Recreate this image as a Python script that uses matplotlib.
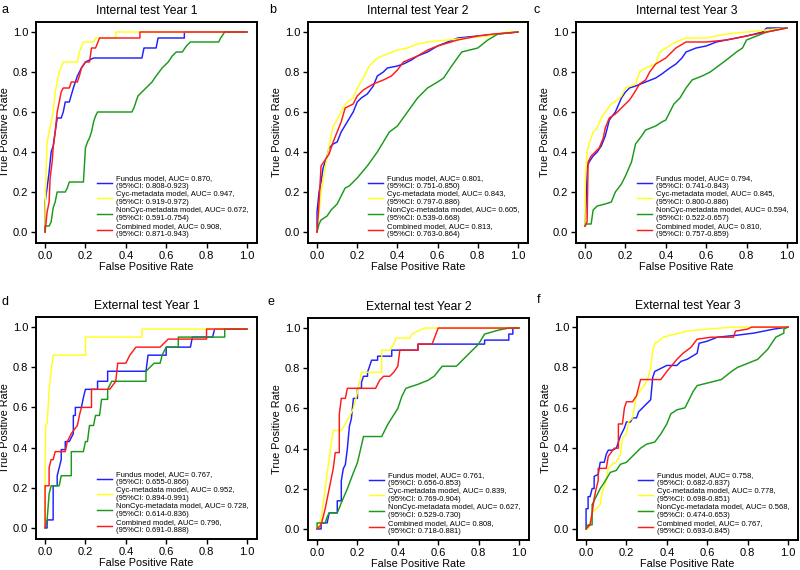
import matplotlib
matplotlib.use("Agg")
import matplotlib.pyplot as plt

plt.rcParams['font.family'] = ['Liberation Sans', 'DejaVu Sans']

# ROC points (fpr, tpr)
a_fundus = [(0,0),(0,0.15),(0.01,0.22),(0.02,0.3),(0.03,0.4),(0.04,0.43),(0.05,0.5),(0.06,0.57),(0.08,0.57),(0.09,0.6),(0.1,0.65),(0.12,0.65),(0.14,0.72),(0.16,0.78),(0.18,0.82),(0.2,0.85),(0.24,0.87),(0.48,0.87),(0.49,0.92),(0.55,0.92),(0.56,0.97),(0.69,0.97),(0.69,1.0),(1,1)]
a_cyc = [(0,0),(0,0.1),(0.005,0.3),(0.01,0.45),(0.02,0.5),(0.03,0.55),(0.04,0.6),(0.05,0.7),(0.06,0.75),(0.07,0.8),(0.09,0.85),(0.16,0.85),(0.17,0.9),(0.19,0.95),(0.24,0.95),(0.25,0.97),(0.35,0.97),(0.35,1.0),(1,1)]
a_noncyc = [(0,0),(0,0.03),(0.02,0.03),(0.03,0.05),(0.04,0.12),(0.05,0.15),(0.06,0.2),(0.1,0.2),(0.11,0.22),(0.12,0.25),(0.19,0.25),(0.2,0.42),(0.21,0.45),(0.22,0.47),(0.23,0.5),(0.24,0.55),(0.25,0.58),(0.26,0.6),(0.43,0.6),(0.44,0.62),(0.45,0.65),(0.46,0.68),(0.48,0.7),(0.5,0.72),(0.53,0.75),(0.55,0.78),(0.58,0.82),(0.61,0.85),(0.63,0.88),(0.65,0.9),(0.68,0.9),(0.7,0.93),(0.72,0.95),(0.86,0.95),(0.87,0.97),(0.89,1.0),(1,1)]
a_comb = [(0,0),(0.005,0.05),(0.01,0.1),(0.02,0.15),(0.025,0.27),(0.035,0.35),(0.04,0.42),(0.05,0.5),(0.06,0.6),(0.07,0.65),(0.08,0.7),(0.09,0.72),(0.12,0.72),(0.13,0.75),(0.16,0.75),(0.17,0.78),(0.18,0.82),(0.2,0.85),(0.22,0.85),(0.23,0.92),(0.25,0.92),(0.27,0.97),(0.47,0.97),(0.47,1.0),(1,1)]

b_fundus = [(0,0),(0,0.1),(0.01,0.2),(0.02,0.25),(0.03,0.32),(0.05,0.38),(0.06,0.42),(0.08,0.44),(0.1,0.45),(0.12,0.5),(0.15,0.55),(0.18,0.6),(0.2,0.65),(0.22,0.67),(0.25,0.69),(0.28,0.73),(0.3,0.78),(0.33,0.8),(0.35,0.82),(0.4,0.83),(0.43,0.84),(0.47,0.86),(0.5,0.88),(0.55,0.9),(0.6,0.93),(0.65,0.95),(0.7,0.97),(0.8,0.98),(0.9,0.99),(1,1)]
b_cyc = [(0,0),(0.02,0.2),(0.04,0.32),(0.06,0.43),(0.08,0.53),(0.1,0.56),(0.13,0.62),(0.15,0.65),(0.18,0.67),(0.2,0.72),(0.23,0.77),(0.26,0.83),(0.3,0.87),(0.35,0.89),(0.4,0.91),(0.45,0.92),(0.5,0.94),(0.55,0.95),(0.65,0.96),(0.75,0.97),(0.85,0.98),(0.95,1.0),(1,1)]
b_noncyc = [(0,0),(0.01,0.04),(0.02,0.06),(0.05,0.08),(0.07,0.11),(0.1,0.14),(0.12,0.18),(0.14,0.22),(0.16,0.23),(0.2,0.27),(0.25,0.33),(0.3,0.4),(0.33,0.45),(0.36,0.5),(0.4,0.53),(0.45,0.6),(0.5,0.67),(0.55,0.72),(0.6,0.75),(0.63,0.77),(0.67,0.83),(0.72,0.9),(0.8,0.92),(0.85,0.96),(0.9,0.99),(1,1)]
b_comb = [(0,0),(0.01,0.15),(0.02,0.33),(0.04,0.36),(0.06,0.39),(0.08,0.45),(0.1,0.5),(0.12,0.55),(0.14,0.62),(0.18,0.64),(0.2,0.68),(0.23,0.71),(0.28,0.74),(0.33,0.76),(0.37,0.78),(0.4,0.81),(0.43,0.85),(0.5,0.88),(0.55,0.91),(0.6,0.93),(0.7,0.96),(0.8,0.98),(0.88,0.99),(1,1)]

c_fundus = [(0,0.03),(0.005,0.15),(0.01,0.32),(0.02,0.35),(0.04,0.38),(0.06,0.4),(0.08,0.43),(0.1,0.48),(0.12,0.56),(0.15,0.6),(0.18,0.67),(0.2,0.7),(0.22,0.72),(0.25,0.73),(0.3,0.75),(0.35,0.77),(0.38,0.79),(0.42,0.82),(0.45,0.84),(0.48,0.87),(0.5,0.9),(0.55,0.92),(0.6,0.93),(0.65,0.95),(0.7,0.96),(0.75,0.97),(0.8,0.98),(0.88,1.0),(0.9,1.02),(1,1.02)]
c_cyc = [(0,0.03),(0,0.2),(0.005,0.33),(0.01,0.4),(0.02,0.44),(0.04,0.5),(0.06,0.52),(0.08,0.57),(0.1,0.6),(0.13,0.64),(0.16,0.66),(0.18,0.68),(0.2,0.72),(0.25,0.74),(0.27,0.8),(0.3,0.82),(0.35,0.84),(0.37,0.9),(0.4,0.92),(0.45,0.95),(0.5,0.97),(0.6,0.97),(0.7,0.99),(0.8,1.0),(0.9,1.01),(1,1.02)]
c_noncyc = [(0,0.03),(0.005,0.04),(0.03,0.04),(0.04,0.11),(0.06,0.13),(0.1,0.14),(0.13,0.15),(0.15,0.2),(0.18,0.24),(0.2,0.28),(0.23,0.35),(0.25,0.44),(0.28,0.48),(0.3,0.51),(0.35,0.53),(0.38,0.55),(0.4,0.56),(0.42,0.6),(0.44,0.64),(0.47,0.67),(0.5,0.72),(0.53,0.76),(0.58,0.78),(0.62,0.8),(0.66,0.83),(0.7,0.86),(0.75,0.9),(0.78,0.92),(0.8,0.96),(0.85,0.98),(0.9,1.0),(1,1.02)]
c_comb = [(0,0.03),(0.01,0.05),(0.015,0.35),(0.03,0.38),(0.05,0.4),(0.07,0.42),(0.09,0.47),(0.1,0.52),(0.12,0.57),(0.15,0.59),(0.18,0.62),(0.22,0.66),(0.24,0.69),(0.27,0.74),(0.3,0.76),(0.32,0.8),(0.35,0.84),(0.4,0.87),(0.45,0.92),(0.5,0.95),(0.6,0.95),(0.7,0.96),(0.8,0.98),(0.9,1.0),(1,1.02)]

d_fundus = [(0,0),(0.01,0),(0.01,0.04),(0.04,0.04),(0.04,0.21),(0.06,0.21),(0.06,0.26),(0.07,0.3),(0.08,0.34),(0.08,0.39),(0.1,0.39),(0.1,0.43),(0.12,0.43),(0.14,0.47),(0.14,0.56),(0.15,0.56),(0.15,0.6),(0.18,0.6),(0.19,0.65),(0.2,0.69),(0.26,0.69),(0.26,0.73),(0.31,0.73),(0.31,0.78),(0.5,0.78),(0.51,0.86),(0.6,0.86),(0.6,0.9),(0.72,0.9),(0.73,0.95),(0.83,0.95),(0.84,0.99),(1,0.99)]
d_cyc = [(0,0),(0,0.22),(0.003,0.51),(0.01,0.52),(0.015,0.6),(0.02,0.69),(0.025,0.73),(0.03,0.78),(0.04,0.86),(0.2,0.86),(0.2,0.95),(0.48,0.95),(0.48,0.99),(1,0.99)]
d_noncyc = [(0,0),(0.01,0.04),(0.02,0.17),(0.03,0.21),(0.07,0.21),(0.08,0.26),(0.13,0.26),(0.13,0.38),(0.19,0.38),(0.2,0.43),(0.21,0.43),(0.22,0.51),(0.24,0.51),(0.25,0.56),(0.27,0.56),(0.28,0.64),(0.31,0.64),(0.31,0.69),(0.33,0.73),(0.5,0.73),(0.5,0.78),(0.54,0.82),(0.57,0.82),(0.58,0.86),(0.6,0.9),(0.66,0.9),(0.66,0.95),(0.89,0.95),(0.89,0.99),(1,0.99)]
d_comb = [(0,0),(0,0.21),(0.02,0.21),(0.02,0.3),(0.03,0.34),(0.04,0.34),(0.05,0.38),(0.1,0.38),(0.11,0.43),(0.13,0.47),(0.16,0.51),(0.17,0.56),(0.18,0.6),(0.23,0.6),(0.23,0.69),(0.32,0.69),(0.35,0.73),(0.36,0.82),(0.4,0.82),(0.42,0.86),(0.45,0.9),(0.57,0.9),(0.61,0.94),(0.8,0.94),(0.8,0.99),(1,0.99)]

e_fundus = [(0,0),(0.02,0),(0.02,0.03),(0.05,0.03),(0.06,0.08),(0.1,0.08),(0.1,0.14),(0.12,0.14),(0.12,0.24),(0.13,0.3),(0.14,0.32),(0.15,0.4),(0.16,0.51),(0.17,0.55),(0.18,0.65),(0.2,0.65),(0.2,0.7),(0.22,0.7),(0.22,0.73),(0.23,0.76),(0.25,0.76),(0.25,0.78),(0.27,0.84),(0.3,0.84),(0.3,0.86),(0.37,0.86),(0.37,0.89),(0.5,0.89),(0.5,0.92),(0.83,0.92),(0.83,0.94),(0.95,0.94),(0.95,0.97),(0.97,0.97),(0.97,1.0),(1,1)]
e_cyc = [(0,0),(0.02,0.05),(0.04,0.2),(0.06,0.35),(0.07,0.43),(0.08,0.49),(0.12,0.49),(0.15,0.54),(0.18,0.6),(0.2,0.68),(0.22,0.78),(0.32,0.78),(0.32,0.89),(0.36,0.89),(0.38,0.92),(0.39,0.95),(0.46,0.95),(0.47,0.97),(0.53,1.0),(1,1)]
e_noncyc = [(0,0),(0,0.03),(0.04,0.03),(0.05,0.06),(0.06,0.08),(0.1,0.08),(0.12,0.13),(0.15,0.2),(0.18,0.28),(0.2,0.33),(0.23,0.46),(0.32,0.46),(0.35,0.52),(0.4,0.6),(0.42,0.66),(0.44,0.7),(0.5,0.72),(0.55,0.74),(0.58,0.76),(0.62,0.81),(0.69,0.81),(0.75,0.87),(0.8,0.92),(0.83,0.97),(0.9,0.99),(0.95,1.0),(1,1)]
e_comb = [(0,0),(0.02,0.02),(0.04,0.1),(0.06,0.2),(0.08,0.3),(0.09,0.38),(0.11,0.38),(0.11,0.57),(0.12,0.65),(0.14,0.65),(0.15,0.7),(0.29,0.7),(0.31,0.74),(0.33,0.76),(0.36,0.76),(0.38,0.78),(0.4,0.81),(0.41,0.89),(0.5,0.89),(0.5,0.92),(0.57,0.92),(0.6,1.0),(1,1)]

f_fundus = [(0,0),(0,0.1),(0.01,0.1),(0.01,0.16),(0.02,0.16),(0.03,0.2),(0.04,0.2),(0.04,0.26),(0.06,0.27),(0.07,0.33),(0.09,0.33),(0.1,0.37),(0.11,0.39),(0.13,0.39),(0.15,0.4),(0.17,0.46),(0.19,0.5),(0.2,0.53),(0.22,0.53),(0.23,0.55),(0.25,0.55),(0.26,0.58),(0.28,0.6),(0.3,0.62),(0.32,0.64),(0.33,0.75),(0.34,0.78),(0.4,0.81),(0.45,0.81),(0.47,0.83),(0.5,0.84),(0.55,0.87),(0.56,0.92),(0.6,0.93),(0.65,0.95),(0.75,0.96),(0.83,0.97),(0.93,0.99),(1,1)]
f_cyc = [(0,0),(0.01,0),(0.02,0.03),(0.03,0.08),(0.04,0.09),(0.05,0.1),(0.07,0.12),(0.08,0.18),(0.1,0.24),(0.11,0.3),(0.13,0.32),(0.15,0.33),(0.17,0.37),(0.18,0.45),(0.2,0.47),(0.21,0.53),(0.23,0.55),(0.24,0.61),(0.25,0.66),(0.28,0.7),(0.3,0.73),(0.31,0.76),(0.32,0.8),(0.33,0.88),(0.34,0.92),(0.36,0.93),(0.38,0.95),(0.42,0.96),(0.5,0.98),(0.6,0.99),(0.73,1.0),(1,1)]
f_noncyc = [(0,0),(0.01,0.02),(0.03,0.02),(0.03,0.12),(0.05,0.16),(0.07,0.2),(0.09,0.23),(0.12,0.28),(0.15,0.29),(0.17,0.32),(0.2,0.33),(0.23,0.36),(0.27,0.4),(0.3,0.42),(0.34,0.43),(0.37,0.47),(0.4,0.52),(0.42,0.57),(0.45,0.59),(0.49,0.6),(0.51,0.64),(0.53,0.68),(0.55,0.71),(0.63,0.73),(0.67,0.74),(0.72,0.78),(0.75,0.8),(0.8,0.82),(0.85,0.84),(0.88,0.87),(0.9,0.89),(0.94,0.95),(0.98,0.97),(0.98,0.99),(1,1)]
f_comb = [(0,0),(0.02,0.02),(0.03,0.08),(0.04,0.15),(0.05,0.2),(0.06,0.24),(0.06,0.3),(0.1,0.3),(0.11,0.36),(0.14,0.4),(0.16,0.4),(0.16,0.52),(0.18,0.52),(0.19,0.6),(0.2,0.63),(0.23,0.63),(0.25,0.66),(0.26,0.7),(0.27,0.74),(0.37,0.74),(0.4,0.78),(0.45,0.84),(0.48,0.87),(0.52,0.9),(0.55,0.94),(0.62,0.95),(0.73,0.95),(0.74,0.98),(0.8,0.99),(0.82,1.0),(1,1)]

titles = ["Internal test Year 1", "Internal test Year 2", "Internal test Year 3",
          "External test Year 1", "External test Year 2", "External test Year 3"]
letters = ["a", "b", "c", "d", "e", "f"]
model_names = ["Fundus model", "Cyc-metadata model", "NonCyc-metadata model", "Combined model"]
colors = ["#1f1fff", "#ffff1a", "#1a9a1a", "#ff1a1a"]

auc = [["0.870", "0.947", "0.672", "0.908"],
       ["0.801", "0.843", "0.605", "0.813"],
       ["0.794", "0.845", "0.594", "0.810"],
       ["0.767", "0.952", "0.728", "0.796"],
       ["0.761", "0.839", "0.627", "0.808"],
       ["0.758", "0.778", "0.568", "0.767"]]
ci = [["0.808-0.923", "0.919-0.972", "0.591-0.754", "0.871-0.943"],
      ["0.751-0.850", "0.797-0.886", "0.539-0.668", "0.763-0.864"],
      ["0.741-0.843", "0.800-0.886", "0.522-0.657", "0.757-0.859"],
      ["0.655-0.866", "0.894-0.991", "0.614-0.836", "0.691-0.888"],
      ["0.656-0.853", "0.769-0.904", "0.529-0.730", "0.718-0.881"],
      ["0.682-0.837", "0.698-0.851", "0.474-0.653", "0.693-0.845"]]

curves = [[a_fundus, a_cyc, a_noncyc, a_comb],
          [b_fundus, b_cyc, b_noncyc, b_comb],
          [c_fundus, c_cyc, c_noncyc, c_comb],
          [d_fundus, d_cyc, d_noncyc, d_comb],
          [e_fundus, e_cyc, e_noncyc, e_comb],
          [f_fundus, f_cyc, f_noncyc, f_comb]]

fig = plt.figure(figsize=(8, 5.7), dpi=100)
W, H = 800, 570
# axes boxes in pixels: left, top, width, height
boxes = [(36, 22, 221, 221), (308, 22, 220, 221), (576, 22, 221, 221),
         (36, 317, 221, 222), (308, 318, 221, 222), (577, 317, 221, 223)]
letter_pos = [(2, 4), (269, 4), (534, 4), (2, 296), (268, 296), (537, 294)]

for i in range(6):
    l, t, w, h = boxes[i]
    ax = fig.add_axes([l / W, 1 - (t + h) / H, w / W, h / H])
    for j in range(4):
        pts = curves[i][j]
        ax.plot([p[0] for p in pts], [p[1] for p in pts], color=colors[j], lw=1.05,
                label="%s, AUC= %s,\n(95%%CI: %s)" % (model_names[j], auc[i][j], ci[i][j]))
    ax.set_xlim(-0.045, 1.05)
    ax.set_ylim(-0.055, 1.05)
    ticks = [0, 0.2, 0.4, 0.6, 0.8, 1.0]
    ax.set_xticks(ticks)
    ax.set_yticks(ticks)
    ax.set_xticklabels(["%.1f" % v for v in ticks])
    ax.set_yticklabels(["%.1f" % v for v in ticks])
    ax.tick_params(direction='out', length=3.5, width=1.0, labelsize=8, pad=2)
    for s in ax.spines.values():
        s.set_linewidth(1.4)
    ax.set_xlabel("False Positive Rate", fontsize=7.8, labelpad=1)
    ax.set_ylabel("True Positive Rate", fontsize=7.8, labelpad=2)
    ax.set_title(titles[i], fontsize=8.7, pad=6)
    ax.legend(loc='lower right', bbox_to_anchor=(0.985, 0.0), frameon=False,
              fontsize=5.5, handlelength=2.0, handletextpad=0.5,
              labelspacing=0.1, borderaxespad=0.3)
    fig.text(letter_pos[i][0] / W, 1 - letter_pos[i][1] / H, letters[i],
             fontsize=9, va='top', ha='left')

fig.savefig("out.png", dpi=100)
